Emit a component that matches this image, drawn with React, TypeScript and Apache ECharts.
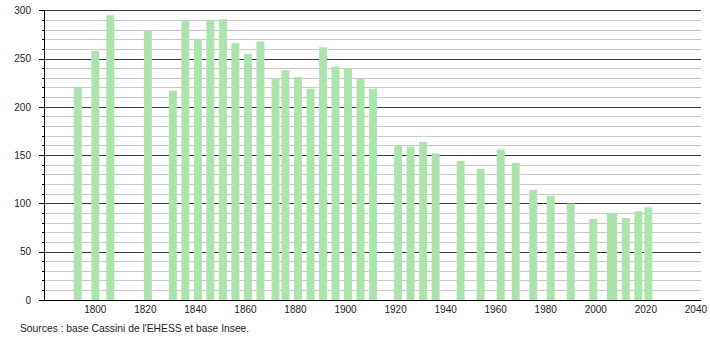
import React, { useEffect, useRef } from "react";
import * as echarts from "echarts";

const years = [1793, 1800, 1806, 1821, 1831, 1836, 1841, 1846, 1851, 1856, 1861, 1866, 1872, 1876, 1881, 1886, 1891, 1896, 1901, 1906, 1911, 1921, 1926, 1931, 1936, 1946, 1954, 1962, 1968, 1975, 1982, 1990, 1999, 2006, 2007, 2012, 2017, 2021];
const population = [220, 258, 295, 279, 217, 290, 270, 290, 291, 266, 255, 268, 229, 238, 231, 219, 262, 242, 240, 229, 219, 160, 159, 164, 152, 144, 136, 156, 142, 114, 108, 100, 84, 90, 90, 85, 92, 96];
const xTickLabels = [1800, 1820, 1840, 1860, 1880, 1900, 1920, 1940, 1960, 1980, 2000, 2020, 2040];
const sourceText = "Sources : base Cassini de l'EHESS et base Insee.";

export default function App() {
  const ref = useRef<HTMLDivElement>(null);
  useEffect(() => {
    if (!ref.current) return;
    const chart = echarts.init(ref.current, undefined, { renderer: "svg" });
    const font = "'Liberation Sans', Arial, sans-serif";
    chart.setOption({
      animation: false,
      backgroundColor: "#ffffff",
      grid: { left: 44, right: 9, top: 10.5, bottom: 40, containLabel: false },
      xAxis: {
        type: "value",
        min: 1779.5,
        max: 2042,
        axisLine: { show: true, lineStyle: { color: "#000", width: 1 } },
        axisTick: { show: false },
        splitLine: { show: false },
        axisLabel: {
          customValues: xTickLabels,
          formatter: (v: number) => String(v),
          color: "#222",
          fontSize: 10,
          fontFamily: font,
          margin: 4,
        },
      },
      yAxis: {
        type: "value",
        min: 0,
        max: 300,
        interval: 50,
        axisLine: { show: true, lineStyle: { color: "#000", width: 1 } },
        axisTick: { show: true, length: 5, lineStyle: { color: "#000" } },
        minorTick: { show: true, splitNumber: 5, length: 2, lineStyle: { color: "#000" } },
        splitLine: { show: true, lineStyle: { color: "#3c3c3c", width: 1 } },
        minorSplitLine: { show: true, lineStyle: { color: "#c8c8c8", width: 1 } },
        axisLabel: { color: "#222", fontSize: 10, fontFamily: font, margin: 13 },
      },
      series: [
        {
          type: "bar",
          data: years.map((y, i) => [y, population[i]]),
          barWidth: 8,
          itemStyle: { color: "#ade4ae" },
          z: 3,
        },
      ],
      graphic: [
        {
          type: "text",
          left: 20,
          top: 323,
          style: { text: sourceText, fill: "#222", font: `10.3px ${font}` },
        },
      ],
    });
    return () => chart.dispose();
  }, []);
  return (
    <div
      ref={ref}
      style={{ position: "fixed", left: 0, top: 0, width: 710, height: 340, background: "#fff" }}
    />
  );
}
